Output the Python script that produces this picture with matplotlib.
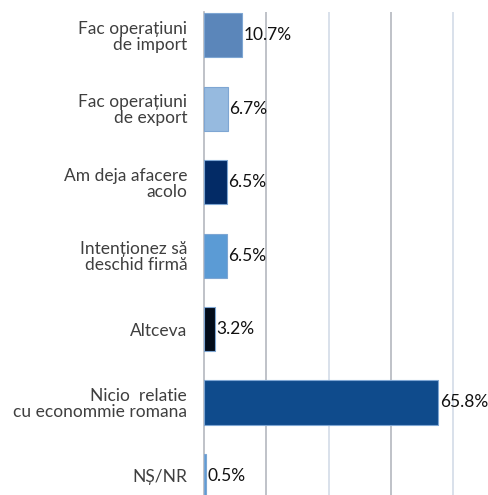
import numpy as np
import matplotlib.pyplot as plt

plt.rcParams['font.family'] = ['Lato', 'DejaVu Sans']

# Survey answers (percent)
labels = ['Fac operațiuni\nde import', 'Fac operațiuni\nde export', 'Am deja afacere\nacolo',
          'Intenționez să\ndeschid firmă', 'Altceva', 'Nicio  relatie\ncu econommie romana', 'NȘ/NR']
values = [10.7, 6.7, 6.5, 6.5, 3.2, 65.8, 0.5]
colors = ['#5b86ba', '#96badf', '#032b66', '#5b9bd5', '#020c1a', '#0f4b8c', '#5b9bd5']

fig = plt.figure(figsize=(4.89, 4.95), dpi=100)
ax = fig.add_axes([0.417, 0.0, 0.583, 0.976])

y = np.arange(len(labels))
ax.barh(y, values, height=0.6, color=colors, edgecolor='#7ea6d3', linewidth=0.8, zorder=3)

# gridlines, alternating shades
for i, gx in enumerate([17.5, 35, 52.5, 70]):
    ax.axvline(gx, color='#b4b8bf' if i % 2 == 0 else '#d3dbe7', linewidth=1.2, zorder=1)

for yi, v in zip(y, values):
    ax.text(v + 0.4, yi, f'{v:.1f}%', va='center', ha='left', fontsize=12.5, color='#111111', zorder=4)

ax.set_xlim(0, 80)
ax.set_ylim(6.26, -0.32)
ax.set_yticks(y)
ax.set_yticklabels(labels, fontsize=12.5, color='#3f3f3f', linespacing=1.0)
ax.tick_params(axis='y', length=0, pad=12)
ax.set_xticks([])
for s in ['top', 'right', 'bottom']:
    ax.spines[s].set_visible(False)
ax.spines['left'].set_color('#b4b8bf')
ax.spines['left'].set_linewidth(1.2)

fig.savefig('out.png', dpi=100)
